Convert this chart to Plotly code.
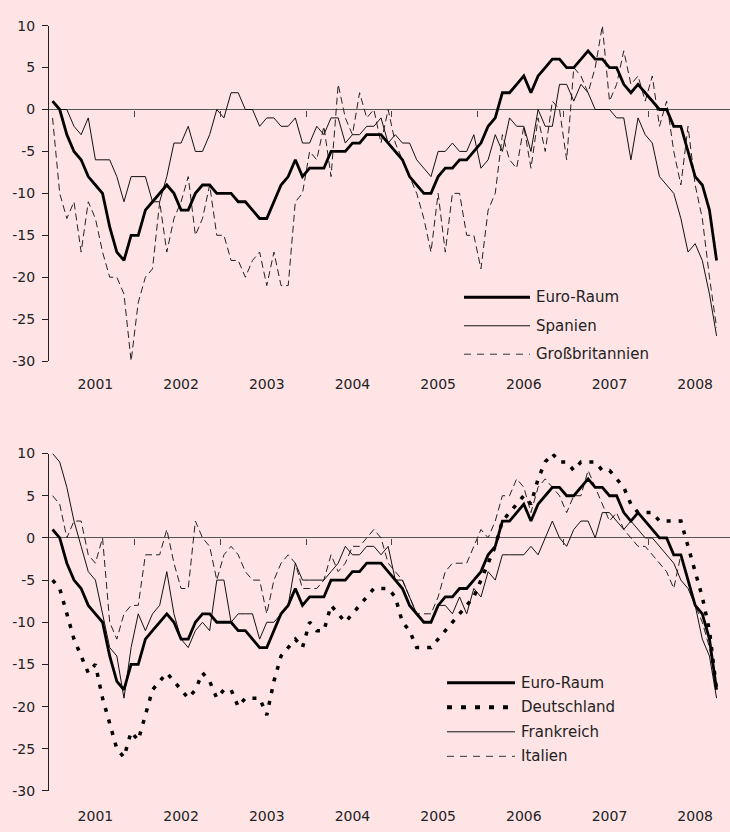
import plotly.graph_objects as go

# monthly values, Jan 2001 .. Oct 2008
months = [f"{y}-{m:02d}" for y in range(2001, 2009) for m in range(1, 13)][:94]

euro = [1, 0, -3, -5, -6, -8, -9, -10, -14, -17, -18, -15, -15, -12, -11, -10, -9, -10, -12, -12,
        -10, -9, -9, -10, -10, -10, -11, -11, -12, -13, -13, -11, -9, -8, -6, -8, -7, -7, -7, -5,
        -5, -5, -4, -4, -3, -3, -3, -4, -5, -6, -8, -9, -10, -10, -8, -7, -7, -6, -6, -5,
        -4, -2, -1, 2, 2, 3, 4, 2, 4, 5, 6, 6, 5, 5, 6, 7, 6, 6, 5, 5,
        3, 2, 3, 2, 1, 0, 0, -2, -2, -5, -8, -9, -12, -18]
spanien = [1, 0, 0, -2, -3, -1, -6, -6, -6, -8, -11, -8, -8, -8, -11, -11, -8, -4, -4, -2,
           -5, -5, -3, 0, -1, 2, 2, 0, 0, -2, -1, -1, -2, -2, -1, -4, -4, -2, -3, -1,
           -1, -4, -3, -3, -2, -2, -1, -4, -3, -4, -4, -6, -7, -8, -5, -5, -4, -5, -5, -3,
           -7, -6, -3, -5, -1, -2, -2, -5, 0, -2, -2, 3, 3, 1, 3, 2, 0, 0, 0, -1,
           -1, -6, -1, -3, -4, -8, -9, -10, -13, -17, -16, -18, -22, -27]
gb = [-1, -10, -13, -11, -17, -11, -13, -17, -20, -20, -22, -30, -23, -20, -19, -11, -17, -13, -11, -8,
      -15, -13, -9, -15, -15, -18, -18, -20, -18, -17, -21, -17, -21, -21, -11, -10, -5, -6, -2, -8,
      3, -1, -3, 2, -1, 0, -4, 0, -4, -6, -8, -10, -13, -17, -10, -17, -10, -10, -15, -15,
      -19, -12, -10, -3, -6, -7, -2, -7, -1, -5, 1, 0, -6, 5, 4, 2, 5, 10, 1, 3,
      7, 3, 4, 1, 4, -2, 1, -5, -9, -2, -9, -13, -20, -26]
deutschland = [-5, -6, -9, -12, -14, -16, -15, -19, -22, -25, -26, -23, -24, -21, -18, -17, -16, -17, -18, -19,
               -18, -16, -17, -19, -18, -18, -20, -19, -19, -19, -21, -17, -14, -13, -12, -13, -10, -11, -11, -8,
               -9, -10, -9, -8, -7, -6, -6, -6, -7, -10, -11, -13, -13, -13, -12, -11, -10, -9, -8, -7,
               -5, -3, -1, 2, 3, 4, 5, 4, 7, 9, 10, 9, 9, 8, 9, 9, 9, 8, 8, 7,
               6, 4, 3, 3, 3, 2, 2, 2, 2, -1, -4, -7, -11, -18]
frankreich = [10, 9, 6, 2, -1, -4, -5, -9, -13, -14, -19, -13, -9, -11, -9, -8, -4, -9, -12, -13,
              -11, -10, -11, -5, -5, -10, -9, -9, -9, -12, -10, -10, -9, -8, -3, -5, -5, -5, -5, -4,
              -3, -1, -2, -2, -1, -1, -2, -1, -5, -5, -7, -9, -10, -10, -8, -8, -9, -7, -9, -6,
              -7, -4, -5, -2, -2, -2, -2, -1, -2, 0, 2, 0, -1, 1, 2, 2, 0, 3, 3, 2,
              1, 2, 1, 0, 0, -1, -2, -3, -5, -6, -8, -12, -14, -19]
italien = [5, 4, 0, 2, 2, -2, -3, 0, -10, -12, -9, -8, -8, -2, -2, -2, 1, -3, -6, -6,
           2, 0, -1, -5, -2, -1, -2, -4, -5, -5, -9, -5, -3, -2, -3, -6, -6, -6, -5, -2,
           -4, -3, -1, -1, 0, 1, 0, -3, -4, -5, -7, -9, -9, -9, -7, -4, -3, -3, -3, -1,
           1, 0, 2, 5, 5, 7, 6, 3, 6, 7, 6, 5, 3, 5, 5, 8, 6, 4, 2, 3,
           1, 0, -1, -1, -2, -3, -4, -6, -2, -5, -8, -10, -13, -18]

years = ["2001", "2002", "2003", "2004", "2005", "2006", "2007", "2008"]
yticks = [10, 5, 0, -5, -10, -15, -20, -25, -30]

W, H = 730, 832
BG = "#ffe4e6"
INK = "#222222"
FONT = "DejaVu Sans"

idx = list(range(len(months)))
xr = [-0.5, -0.5 + (W - 49) / 7.14]

def px(x):
    return x / W

def py(y):
    return 1 - y / H

top_dom = [py(360), py(18)]
bot_dom = [py(798.3), py(454.3)]

styles = {
    "euro": dict(color="#000000", width=2.8),
    "thin": dict(color="#111111", width=1),
    "dash": dict(color="#222222", width=1, dash="7px,4px"),
    "dots": dict(color="#000000", width=3.5, dash="4px,8px"),
}

fig = go.Figure()
fig.add_trace(go.Scatter(x=idx, y=gb, mode="lines", line=styles["dash"], xaxis="x", yaxis="y"))
fig.add_trace(go.Scatter(x=idx, y=spanien, mode="lines", line=styles["thin"], xaxis="x", yaxis="y"))
fig.add_trace(go.Scatter(x=idx, y=euro, mode="lines", line=styles["euro"], xaxis="x", yaxis="y"))

fig.add_trace(go.Scatter(x=idx, y=italien, mode="lines", line=styles["dash"], xaxis="x2", yaxis="y2"))
fig.add_trace(go.Scatter(x=idx, y=frankreich, mode="lines", line=styles["thin"], xaxis="x2", yaxis="y2"))
fig.add_trace(go.Scatter(x=idx, y=deutschland, mode="lines", line=styles["dots"], xaxis="x2", yaxis="y2"))
fig.add_trace(go.Scatter(x=idx, y=euro, mode="lines", line=styles["euro"], xaxis="x2", yaxis="y2"))

yax = dict(range=[-30, 10], showgrid=False, zeroline=True, zerolinecolor="#555555", zerolinewidth=1,
           showline=True, linecolor=INK, linewidth=1, ticks="outside", ticklen=6, tickcolor=INK,
           tickvals=yticks, ticktext=[str(v) for v in yticks], ticklabelstandoff=4,
           tickfont=dict(family=FONT, size=14, color=INK), fixedrange=True)

def zero_pos(dom):
    return dom[0] + 0.75 * (dom[1] - dom[0])

# axis drawn on the zero line: only tick marks at year boundaries
xtick = dict(range=xr, domain=[px(49), 1], showgrid=False, zeroline=False, showline=False,
             ticks="outside", ticklen=6, tickcolor="#444444", tickvals=[11.5 + 12 * k for k in range(7)],
             showticklabels=False, anchor="free")
# axis carrying the year labels
xlab = dict(range=xr, showgrid=False, zeroline=False, showline=False, ticks="outside", ticklen=0,
            tickcolor="rgba(0,0,0,0)", tickvals=[6 + 12 * k for k in range(8)], ticktext=years,
            tickfont=dict(family=FONT, size=14, color=INK), side="bottom")

fig.update_layout(
    width=W, height=H, autosize=False, margin=dict(l=0, r=0, t=0, b=0),
    paper_bgcolor=BG, plot_bgcolor=BG, showlegend=False,
    xaxis=dict(xtick, position=zero_pos(top_dom)),
    xaxis2=dict(xtick, position=zero_pos(bot_dom)),
    xaxis3=dict(xlab, overlaying="x", anchor="y", ticklabelstandoff=10),
    xaxis4=dict(xlab, overlaying="x2", anchor="y2", ticklabelstandoff=12),
    yaxis=dict(yax, domain=top_dom, anchor="x"),
    yaxis2=dict(yax, domain=bot_dom, anchor="x2"),
)
# dummy traces so the label axes are drawn
fig.add_trace(go.Scatter(x=[0], y=[None], xaxis="x3", yaxis="y", showlegend=False, hoverinfo="skip"))
fig.add_trace(go.Scatter(x=[0], y=[None], xaxis="x4", yaxis="y2", showlegend=False, hoverinfo="skip"))

# hand-drawn legends
legend_top = [("Euro-Raum", "euro", 295), ("Spanien", "thin", 324), ("Großbritannien", "dash", 353)]
legend_bot = [("Euro-Raum", "euro", 688), ("Deutschland", "dots", 713), ("Frankreich", "thin", 738),
              ("Italien", "dash", 763)]
leg_style = {"euro": dict(color="#000000", width=3), "thin": dict(color="#111111", width=1),
             "dash": dict(color="#333333", width=1, dash="7px,6px"),
             "dots": dict(color="#000000", width=4, dash="5px,9px")}

for items, x0, x1 in [(legend_top, 464, 530), (legend_bot, 447, 515)]:
    for name, st, yy in items:
        fig.add_shape(type="line", xref="paper", yref="paper", x0=px(x0), x1=px(x1), y0=py(yy), y1=py(yy),
                      line=leg_style[st])
        fig.add_annotation(xref="paper", yref="paper", x=px(x1 + 4), y=py(yy), text=name, showarrow=False,
                           xanchor="left", yanchor="middle", font=dict(family=FONT, size=15, color=INK))

# page margin off so the 730x832 figure fills the window exactly
fix = ("document.body.style.margin='0';document.body.style.overflow='hidden';"
       "document.body.style.background='%s';" % BG)
fig.write_html("out.html", config={"displayModeBar": False, "responsive": False}, post_script=fix)
